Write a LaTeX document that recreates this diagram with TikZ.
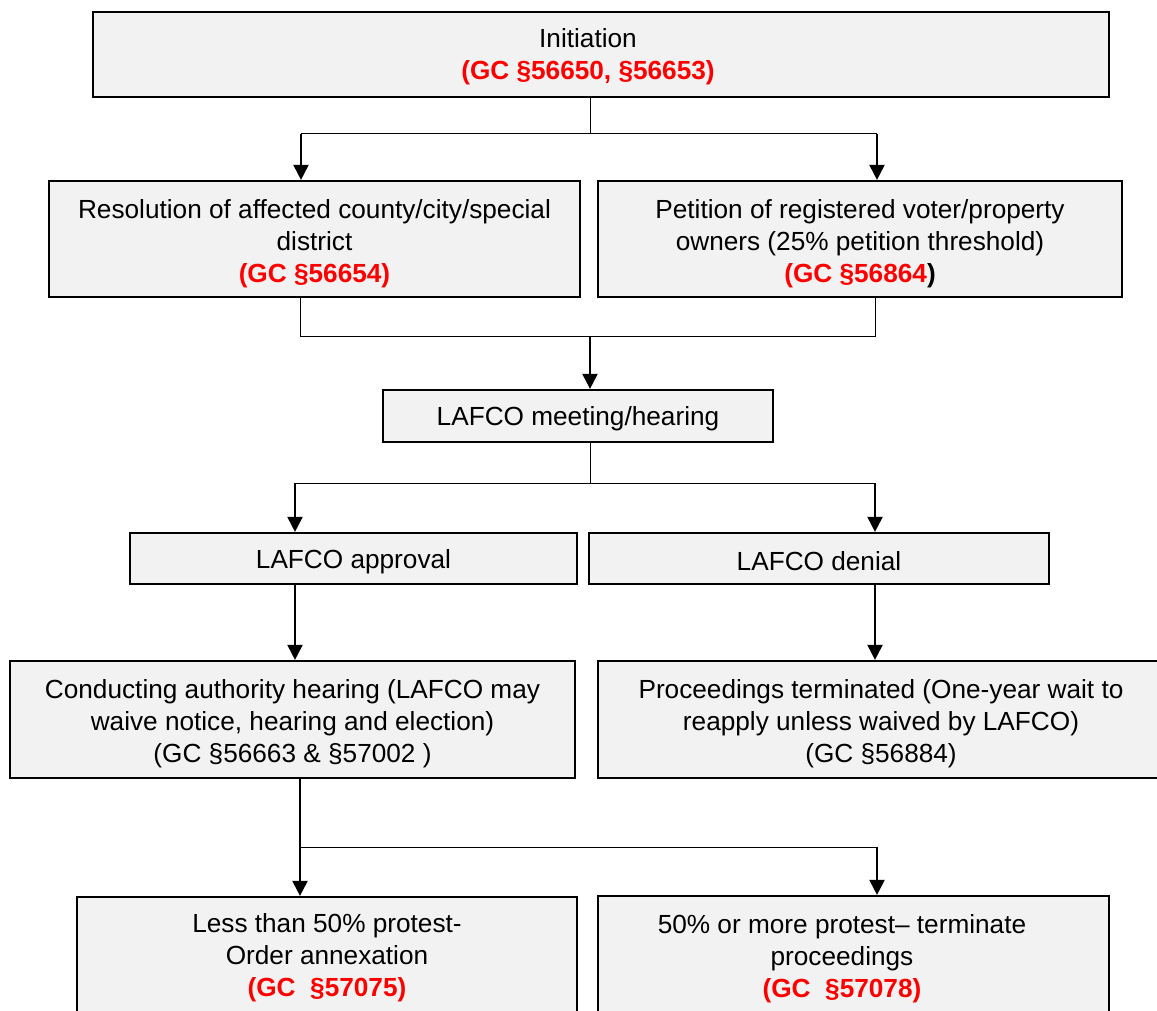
\documentclass[tikz,border=0pt]{standalone}
\usepackage{fontspec}
\setmainfont{Liberation Sans}
\usepackage{xcolor}
\usetikzlibrary{arrows.meta}
\definecolor{boxgray}{HTML}{F2F2F2}
\newcommand{\gcref}[1]{\textcolor{red}{\textbf{#1}}}
\newcommand{\topgap}[1]{\rule{0pt}{#1pt}}

\begin{document}
\begin{tikzpicture}[x=1pt, y=-1pt,
    box/.style={draw=black, line width=2.2pt, fill=boxgray, align=center,
      inner sep=0pt, font=\fontsize{26.2}{32}\selectfont,
      execute at begin node={\rule{0pt}{25pt}}},
    boxtext/.style={align=center, inner sep=0pt, font=\fontsize{26.2}{32}\selectfont},
    link/.style={line width=1pt},
    flow/.style={line width=2pt, -{Triangle[width=15pt,length=15pt]}}]
    \clip (0,0) rectangle (1157,1011);
    \node[box, minimum width=1016pt, minimum height=85pt] (init) at (601, 54.5) {};
    \node[boxtext] (inittext) at (588, 54.5) {\topgap{23}Initiation\\ \gcref{(GC §56650, §56653)}};
    \node[box, minimum width=531pt, minimum height=116pt] (res) at (314.5, 239) {\topgap{28}Resolution of affected county/city/special\\ district\\ \gcref{(GC §56654)}};
    \node[box, minimum width=524pt, minimum height=116pt] (pet) at (860, 239) {\topgap{28}Petition of registered voter/property\\ owners (25\% petition threshold)\\ \textbf{\textcolor{red}{(GC §56864})}};
    \node[box, minimum width=390pt, minimum height=52pt] (meet) at (578, 416) {LAFCO meeting/hearing};
    \node[box, minimum width=447pt, minimum height=51pt] (appr) at (353.5, 558.5) {LAFCO approval};
    \node[box, minimum width=460pt, minimum height=51pt] (deny) at (819, 558.5) {LAFCO denial};
    \node[box, minimum width=565pt, minimum height=117pt] (cond) at (292.5, 719.5) {\topgap{27}Conducting authority hearing (LAFCO may\\ waive notice, hearing and election)\\ (GC §56663 \& §57002 )};
    \node[box, minimum width=566pt, minimum height=117pt] (proc) at (881, 719.5) {\topgap{27}Proceedings terminated (One-year wait to\\ reapply unless waived by LAFCO)\\ (GC §56884)};
    \node[box, minimum width=500pt, minimum height=117pt] (less) at (327, 955.5) {\topgap{23}Less than 50\% protest-\\ Order annexation\\ \gcref{(GC\ \ §57075)}};
    \node[box, minimum width=511pt, minimum height=117pt] (more) at (853.5, 954.5) {};
    \node[boxtext] (moretext) at (842, 956.5) {\topgap{23}50\% or more protest– terminate\\ proceedings\\ \gcref{(GC\ \ §57078)}};
    % junctions
    \coordinate (j1) at (590, 134);
    \coordinate (j1l) at (301, 134);
    \coordinate (j1r) at (877, 134);
    \coordinate (j2) at (590, 336);
    \coordinate (j2l) at (300, 336);
    \coordinate (j2r) at (875, 336);
    \coordinate (j3) at (590, 483);
    \coordinate (j3l) at (295, 483);
    \coordinate (j3r) at (875, 483);
    \coordinate (j4) at (300, 847);
    \coordinate (j4r) at (877, 847);
    \draw [link] (init.south -| j1) -- (j1);
    \draw [link] (j1l) -- (j1r);
    \draw [flow] (j1l) -- (j1l |- res.north);
    \draw [flow] (j1r) -- (j1r |- pet.north);
    \draw [link] (j2l |- res.south) -- (j2l) -- (j2r) -- (j2r |- pet.south);
    \draw [flow] (j2) -- (j2 |- meet.north);
    \draw [link] (meet.south -| j3) -- (j3);
    \draw [link] (j3l) -- (j3r);
    \draw [flow] (j3l) -- (j3l |- appr.north);
    \draw [flow] (j3r) -- (j3r |- deny.north);
    \draw [flow] (appr.south -| j3l) -- (j3l |- cond.north);
    \draw [flow] (deny.south -| j3r) -- (j3r |- proc.north);
    \draw [flow] (cond.south -| j4) -- (j4 |- less.north);
    \draw [link] (j4) -- (j4r);
    \draw [flow] (j4r) -- (j4r |- more.north);
  \end{tikzpicture}
\end{document}
